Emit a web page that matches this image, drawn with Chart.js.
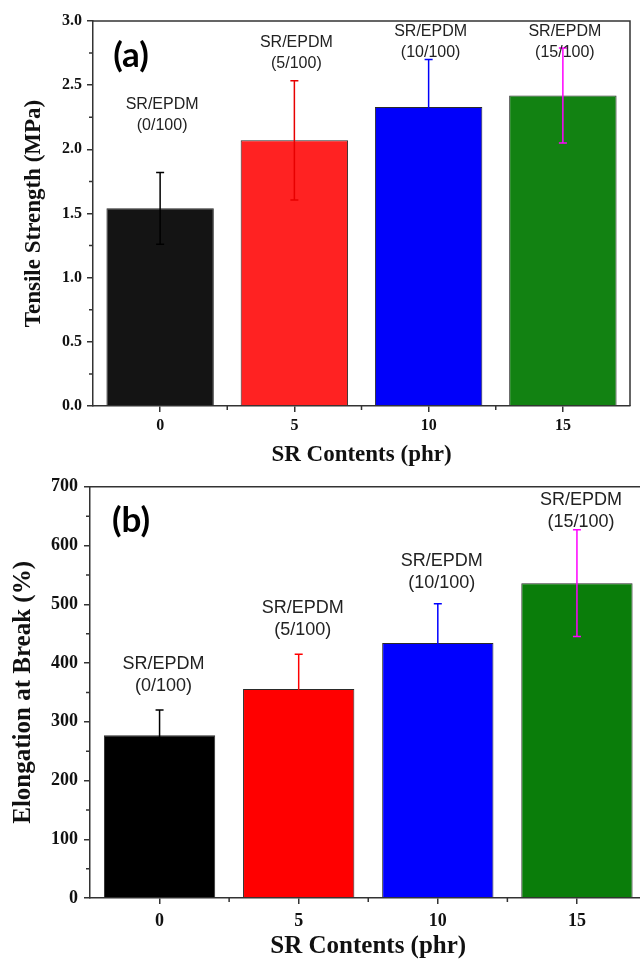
<!DOCTYPE html>
<html>
<head>
<meta charset="utf-8">
<script src="https://cdn.jsdelivr.net/npm/chart.js@4.4.0/dist/chart.umd.min.js"></script>
<style>
html, body { margin: 0; padding: 0; background: #fff; width: 640px; height: 960px; overflow: hidden; }
#wrapA { position: absolute; left: 0; top: 0; width: 640px; height: 470px; }
#wrapB { position: absolute; left: 0; top: 470px; width: 660px; height: 500px; }
</style>
</head>
<body>
<div id="wrapA"><canvas id="chartA" width="640" height="470"></canvas></div>
<div id="wrapB"><canvas id="chartB" width="660" height="500"></canvas></div>
<script>
// data
const categories = ['0', '5', '10', '15'];
const groupNames = ['(0/100)', '(5/100)', '(10/100)', '(15/100)'];
const tensileValues = [1.54, 2.07, 2.33, 2.42];
const tensileErrors = [0.28, 0.465, 0.37, 0.37];
const tensileTicks = [0, 0.5, 1.0, 1.5, 2.0, 2.5, 3.0];
const elongationValues = [277, 356, 434, 536];
const elongationErrors = [43, 59, 67, 91];
const elongationTicks = [0, 100, 200, 300, 400, 500, 600, 700];
// height (in axis units) of the "SR/EPDM" line of each annotation
const tensileNoteAt = [2.35, 2.83, 2.915, 2.915];
const elongationNoteAt = [399, 493, 573, 677];

const axisColor = '#333';
const serif = "'Liberation Serif', 'Times New Roman', serif";
const sans = "'Liberation Sans', Arial, sans-serif";

const decorPlugin = {
    id: 'decor',
    afterDatasetsDraw(chart, args, opts) {
        const ctx = chart.ctx;
        const y = chart.scales.y;
        const bars = chart.getDatasetMeta(0).data;
        ctx.save();
        ctx.lineWidth = 1.5;
        bars.forEach((bar, i) => {
            const v = chart.data.datasets[0].data[i];
            const e = opts.errors[i];
            const top = y.getPixelForValue(v + e);
            const bot = y.getPixelForValue(v - e);
            ctx.strokeStyle = opts.errorColors[i];
            ctx.beginPath();
            ctx.moveTo(bar.x, top);
            ctx.lineTo(bar.x, bot);
            ctx.moveTo(bar.x - 4, top);
            ctx.lineTo(bar.x + 4, top);
            ctx.moveTo(bar.x - 4, bot);
            ctx.lineTo(bar.x + 4, bot);
            ctx.stroke();
        });
        ctx.restore();
    },
    afterDraw(chart, args, opts) {
        const ctx = chart.ctx;
        const area = chart.chartArea;
        const y = chart.scales.y;
        const bars = chart.getDatasetMeta(0).data;
        ctx.save();

        // frame on top and right
        ctx.strokeStyle = axisColor;
        ctx.lineWidth = 1.5;
        ctx.beginPath();
        ctx.moveTo(area.left, area.top);
        ctx.lineTo(area.right, area.top);
        ctx.lineTo(area.right, area.bottom);
        ctx.stroke();

        // minor ticks
        ctx.beginPath();
        for (let v = opts.minorStep; v < y.max; v += opts.minorStep * 2) {
            const py = y.getPixelForValue(v);
            ctx.moveTo(area.left - 4, py);
            ctx.lineTo(area.left, py);
        }
        for (let i = 0; i < bars.length - 1; i++) {
            const px = (bars[i].x + bars[i + 1].x) / 2;
            ctx.moveTo(px, area.bottom);
            ctx.lineTo(px, area.bottom + 4);
        }
        ctx.stroke();

        // annotations above bars
        ctx.fillStyle = '#222';
        ctx.textAlign = 'center';
        ctx.textBaseline = 'middle';
        ctx.font = opts.noteSize + 'px ' + sans;
        bars.forEach((bar, i) => {
            const py = y.getPixelForValue(opts.noteAt[i]);
            ctx.fillText('SR/EPDM', bar.x + opts.noteShift, py);
            ctx.fillText(groupNames[i], bar.x + opts.noteShift, py + opts.noteGap);
        });

        // panel tag
        ctx.fillStyle = '#000';
        ctx.font = "bold 35px Lato, 'Open Sans', sans-serif";
        ctx.fillText(opts.tag, opts.tagX, opts.tagY);
        ctx.restore();
    }
};

function makeChart(id, cfg) {
    const ctx = document.getElementById(id).getContext('2d');
    return new Chart(ctx, {
        type: 'bar',
        data: {
            labels: categories,
            datasets: [{
                data: cfg.values,
                backgroundColor: cfg.colors,
                borderColor: '#2a2a2a',
                borderWidth: 1,
                barPercentage: 0.8,
                categoryPercentage: 1.0
            }]
        },
        plugins: [decorPlugin],
        options: {
            responsive: false,
            animation: false,
            devicePixelRatio: 1,
            layout: { padding: { left: 0, top: cfg.top, right: cfg.right, bottom: 0 } },
            plugins: {
                legend: { display: false },
                tooltip: { enabled: false },
                decor: {
                    errors: cfg.errors,
                    errorColors: cfg.errorColors,
                    minorStep: cfg.minorStep,
                    noteAt: cfg.noteAt,
                    noteSize: cfg.noteSize,
                    noteGap: cfg.noteGap,
                    noteShift: cfg.noteShift,
                    tag: cfg.tag,
                    tagX: 131,
                    tagY: cfg.tagY
                }
            },
            scales: {
                x: {
                    afterFit: s => { s.height = cfg.xHeight; },
                    grid: { offset: false, drawOnChartArea: false, tickLength: 6, color: axisColor, lineWidth: 1.5 },
                    border: { color: axisColor, width: 1.5 },
                    ticks: { color: '#111', padding: cfg.xPad, font: { family: serif, size: cfg.tickSize, weight: 'bold' } },
                    title: {
                        display: true,
                        text: 'SR Contents (phr)',
                        color: '#111',
                        padding: { top: 0, bottom: cfg.xTitlePad },
                        font: { family: serif, size: cfg.titleSize, weight: 'bold' }
                    }
                },
                y: {
                    min: cfg.ticks[0],
                    max: cfg.ticks[cfg.ticks.length - 1],
                    afterFit: s => { s.width = cfg.axisLeft; },
                    afterBuildTicks: s => { s.ticks = cfg.ticks.map(v => ({ value: v })); },
                    grid: { drawOnChartArea: false, tickLength: 6, color: axisColor, lineWidth: 1.5 },
                    border: { color: axisColor, width: 1.5 },
                    ticks: {
                        color: '#111',
                        padding: cfg.yPad,
                        font: { family: serif, size: cfg.tickSize, weight: 'bold' },
                        callback: v => cfg.tickFormat(v)
                    },
                    title: {
                        display: true,
                        text: cfg.yTitle,
                        color: '#111',
                        padding: { top: cfg.yTitlePad, bottom: 0 },
                        font: { family: serif, size: cfg.titleSize, weight: 'bold' }
                    }
                }
            }
        }
    });
}

makeChart('chartA', {
    values: tensileValues,
    errors: tensileErrors,
    ticks: tensileTicks,
    tickFormat: v => v.toFixed(1),
    colors: ['#141414', '#ff2222', '#0000fa', '#128212'],
    errorColors: ['#000000', '#e80000', '#0000fa', '#ff00ff'],
    minorStep: 0.25,
    noteAt: tensileNoteAt,
    noteSize: 16,
    noteGap: 21,
    noteShift: 2,
    tag: '(a)',
    tagY: 56,
    top: 21,
    right: 10,
    axisLeft: 93,
    xHeight: 64,
    tickSize: 16,
    titleSize: 23,
    xPad: 4,
    yPad: 5,
    xTitlePad: 1,
    yTitlePad: 20,
    yTitle: 'Tensile Strength (MPa)'
});

makeChart('chartB', {
    values: elongationValues,
    errors: elongationErrors,
    ticks: elongationTicks,
    tickFormat: v => String(v),
    colors: ['#000000', '#ff0000', '#0000ff', '#0a7d0a'],
    errorColors: ['#000000', '#ff0000', '#0000ff', '#ff00ff'],
    minorStep: 50,
    noteAt: elongationNoteAt,
    noteSize: 18,
    noteGap: 22,
    noteShift: 4,
    tag: '(b)',
    tagY: 51,
    top: 11,
    right: 13.5,
    axisLeft: 90,
    xHeight: 72,
    tickSize: 18,
    titleSize: 25,
    xPad: 7,
    yPad: 6,
    xTitlePad: 8,
    yTitlePad: 9,
    yTitle: 'Elongation at Break (%)'
});
</script>
</body>
</html>
